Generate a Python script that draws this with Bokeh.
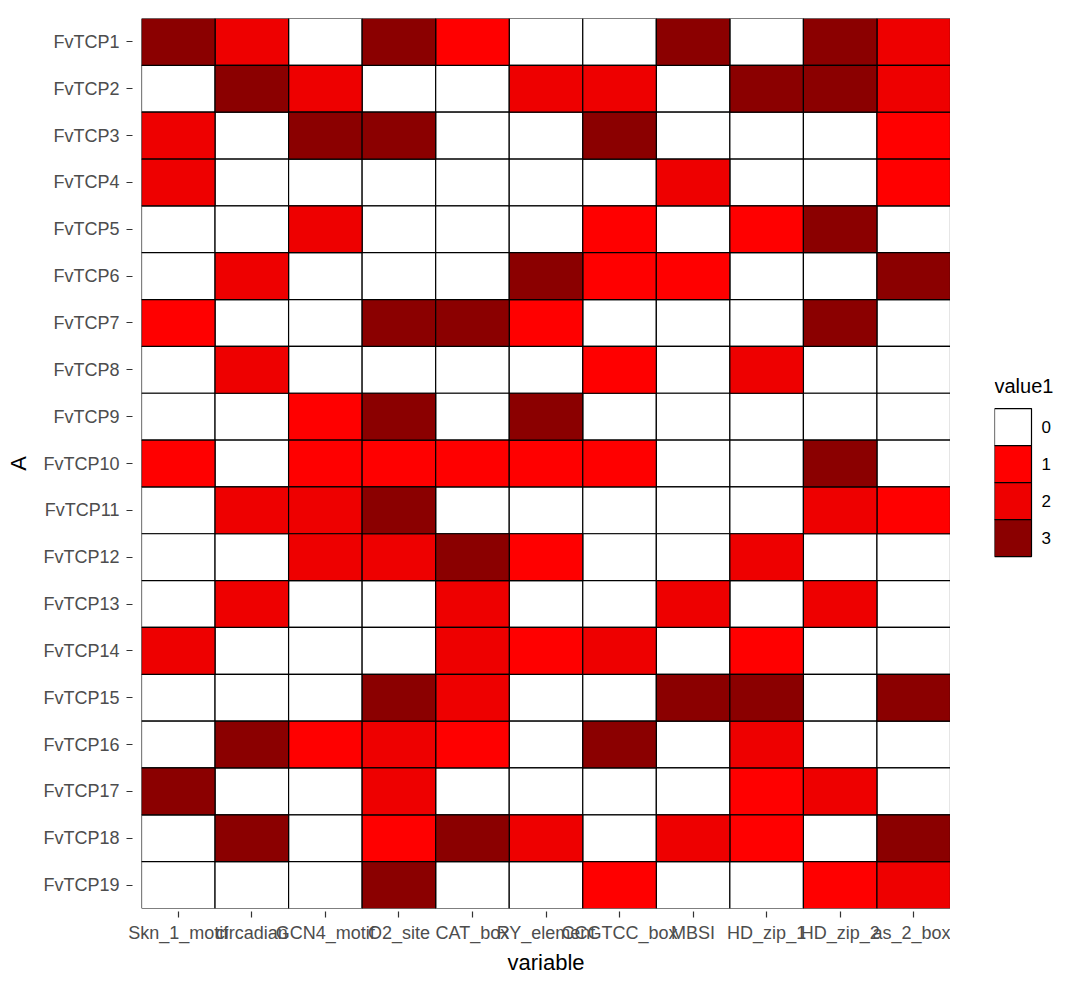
from bokeh.plotting import figure
from bokeh.models import ColumnDataSource, FactorRange, Range1d
from bokeh.core.properties import value
from bokeh.layouts import row
from bokeh.embed import file_html
from bokeh.resources import INLINE

variables = ["Skn_1_motif", "circadian", "GCN4_motif", "O2_site", "CAT_box",
             "RY_element", "CCGTCC_box", "MBSI", "HD_zip_1", "HD_zip_2", "as_2_box"]
genes = ["FvTCP%d" % i for i in range(1, 20)]

values = [
    [3, 2, 0, 3, 1, 0, 0, 3, 0, 3, 2],
    [0, 3, 2, 0, 0, 2, 2, 0, 3, 3, 2],
    [2, 0, 3, 3, 0, 0, 3, 0, 0, 0, 1],
    [2, 0, 0, 0, 0, 0, 0, 2, 0, 0, 1],
    [0, 0, 2, 0, 0, 0, 1, 0, 1, 3, 0],
    [0, 2, 0, 0, 0, 3, 1, 1, 0, 0, 3],
    [1, 0, 0, 3, 3, 1, 0, 0, 0, 3, 0],
    [0, 2, 0, 0, 0, 0, 1, 0, 2, 0, 0],
    [0, 0, 1, 3, 0, 3, 0, 0, 0, 0, 0],
    [1, 0, 1, 1, 1, 1, 1, 0, 0, 3, 0],
    [0, 2, 2, 3, 0, 0, 0, 0, 0, 2, 1],
    [0, 0, 2, 2, 3, 1, 0, 0, 2, 0, 0],
    [0, 2, 0, 0, 2, 0, 0, 2, 0, 2, 0],
    [2, 0, 0, 0, 2, 1, 2, 0, 1, 0, 0],
    [0, 0, 0, 3, 2, 0, 0, 3, 3, 0, 3],
    [0, 3, 1, 2, 1, 0, 3, 0, 2, 0, 0],
    [3, 0, 0, 2, 0, 0, 0, 0, 1, 2, 0],
    [0, 3, 0, 1, 3, 2, 0, 2, 1, 0, 3],
    [0, 0, 0, 3, 0, 0, 1, 0, 0, 1, 2],
]

levels = [0, 1, 2, 3]
level_colors = ["#FFFFFF", "#FF0000", "#EE0000", "#8B0000"]
legend_title = "value1"

FONT = "Liberation Sans"

p = figure(width=950, height=983, output_backend="svg", toolbar_location=None,
           x_range=FactorRange(*variables, range_padding=0),
           y_range=FactorRange(*list(reversed(genes)), range_padding=0),
           min_border_left=141, min_border_right=0, min_border_top=18,
           min_border_bottom=75, x_axis_label="variable", y_axis_label="A")
p.outline_line_color = None
p.grid.visible = False

for lv, col in zip(levels, level_colors):
    xs, ys = [], []
    for gi, g in enumerate(genes):
        for vi, v in enumerate(variables):
            if values[gi][vi] == lv:
                xs.append(v)
                ys.append(g)
    src = ColumnDataSource(dict(x=xs, y=ys))
    p.rect(x="x", y="y", width=1, height=1, source=src, fill_color=col,
           line_color="black", line_width=1.2)

for ax in (p.xaxis[0], p.yaxis[0]):
    ax.axis_line_color = None
    ax.major_tick_line_color = "#333333"
    ax.major_tick_line_width = 1.2
    ax.minor_tick_line_color = None
    ax.major_label_text_font = FONT
    ax.major_label_text_font_size = "18px"
    ax.major_label_text_color = "#4D4D4D"
    ax.axis_label_text_font = FONT
    ax.axis_label_text_font_size = "22px"
    ax.axis_label_text_font_style = "normal"
    ax.axis_label_text_color = "black"

p.xaxis.major_tick_in = -3
p.xaxis.major_tick_out = 9
p.xaxis.major_label_standoff = 5
p.xaxis.axis_label_standoff = 4
p.xaxis.major_label_orientation = "horizontal"

p.yaxis.major_tick_in = -9
p.yaxis.major_tick_out = 15
p.yaxis.major_label_standoff = 7
p.yaxis.axis_label_standoff = 9

# legend panel: one key unit = 37 px; frame spans the same height as the heatmap
lp = figure(width=130, height=983, output_backend="svg", toolbar_location=None,
            x_range=Range1d(0, 86 / 37), y_range=Range1d(-13.01, 11.04),
            x_axis_location=None, y_axis_location=None,
            min_border_left=44, min_border_right=0, min_border_top=18,
            min_border_bottom=75)
lp.grid.visible = False
lp.outline_line_color = None
key_y = [-lv for lv in levels]
lsrc = ColumnDataSource(dict(x=[0.5] * len(levels), y=key_y, c=level_colors,
                             t=[str(v) for v in levels]))
lp.rect(x="x", y="y", width=1, height=1, source=lsrc, fill_color="c",
        line_color="black", line_width=1.2)
lp.text(x=1.27, y="y", text="t", source=lsrc, text_font=value(FONT),
        text_font_size="17px", text_color="black", text_baseline="middle",
        text_align="left")
tsrc = ColumnDataSource(dict(x=[0.0], y=[1.12], t=[legend_title]))
lp.text(x="x", y="y", text="t", source=tsrc, text_font=value(FONT),
        text_font_size="20px", text_color="black", text_baseline="middle",
        text_align="left")

layout = row(p, lp)
open("out.html", "w").write(file_html(layout, INLINE))
